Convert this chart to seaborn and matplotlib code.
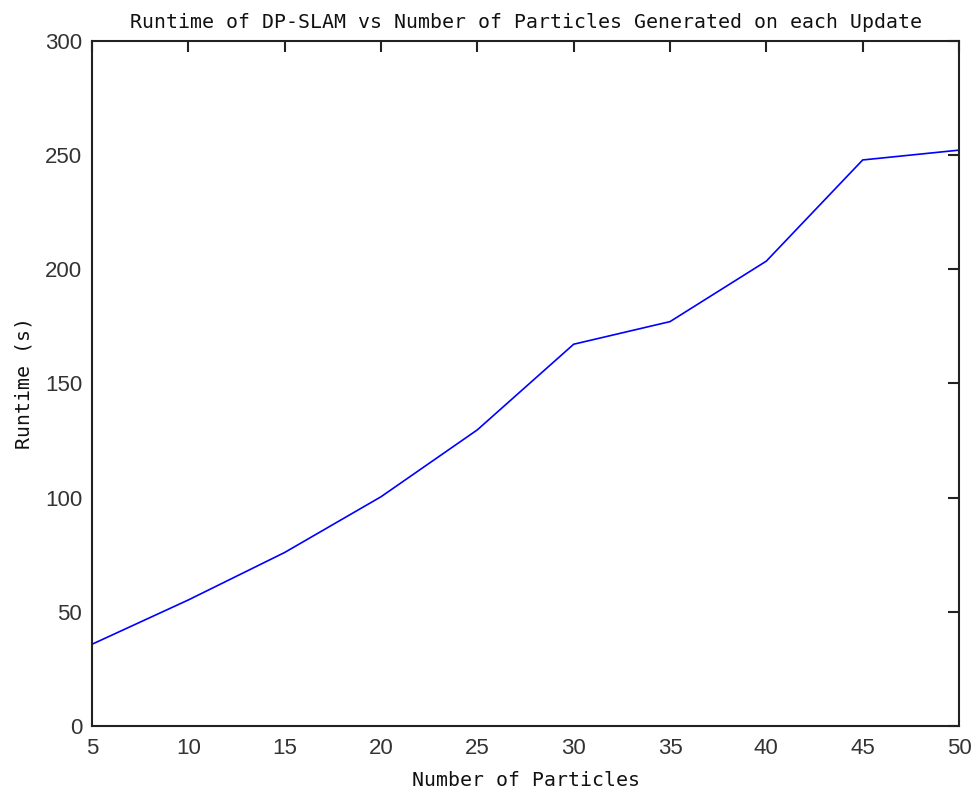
import matplotlib
matplotlib.use("Agg")
import matplotlib.pyplot as plt
import seaborn as sns
import pandas as pd

particles = [5, 10, 15, 20, 25, 30, 35, 40, 45, 50]
runtime = [35.8, 55.2, 76.0, 100.4, 129.7, 167.2, 177.1, 203.6, 247.9, 252.2]
x_ticks = [5, 10, 15, 20, 25, 30, 35, 40, 45, 50]
y_ticks = [0, 50, 100, 150, 200, 250, 300]

df = pd.DataFrame({"particles": particles, "runtime": runtime})

sns.set_style("white")
fig = plt.figure(figsize=(9.74, 7.92), dpi=100)
ax = fig.add_axes([92/974, 1 - 726/792, (959 - 92)/974, (726 - 41)/792])

sns.lineplot(data=df, x="particles", y="runtime", ax=ax, color=(0, 0, 1), linewidth=1.2)

ax.set_xlim(5, 50)
ax.set_ylim(0, 300)
ax.set_xticks(x_ticks)
ax.set_yticks(y_ticks)
ax.tick_params(direction="in", length=8, width=1.5, top=True, right=True,
               labelsize=16, colors="#222222", labelcolor="#333333")
ax.tick_params(axis="x", pad=9)
ax.tick_params(axis="y", pad=7)
for lab in ax.get_xticklabels() + ax.get_yticklabels():
    lab.set_family("Liberation Sans")
for s in ax.spines.values():
    s.set_linewidth(1.5)
    s.set_color("#222222")
    s.set_visible(True)

mono = "DejaVu Sans Mono"
ax.set_title("Runtime of DP-SLAM vs Number of Particles Generated on each Update",
             family=mono, fontsize=14.3, pad=9, color="#111111")
ax.set_xlabel("Number of Particles", family=mono, fontsize=14.3, labelpad=8, color="#111111")
ax.set_ylabel("Runtime (s)", family=mono, fontsize=14.3, labelpad=8, color="#111111")

fig.savefig("out.png", dpi=100, facecolor="white")
